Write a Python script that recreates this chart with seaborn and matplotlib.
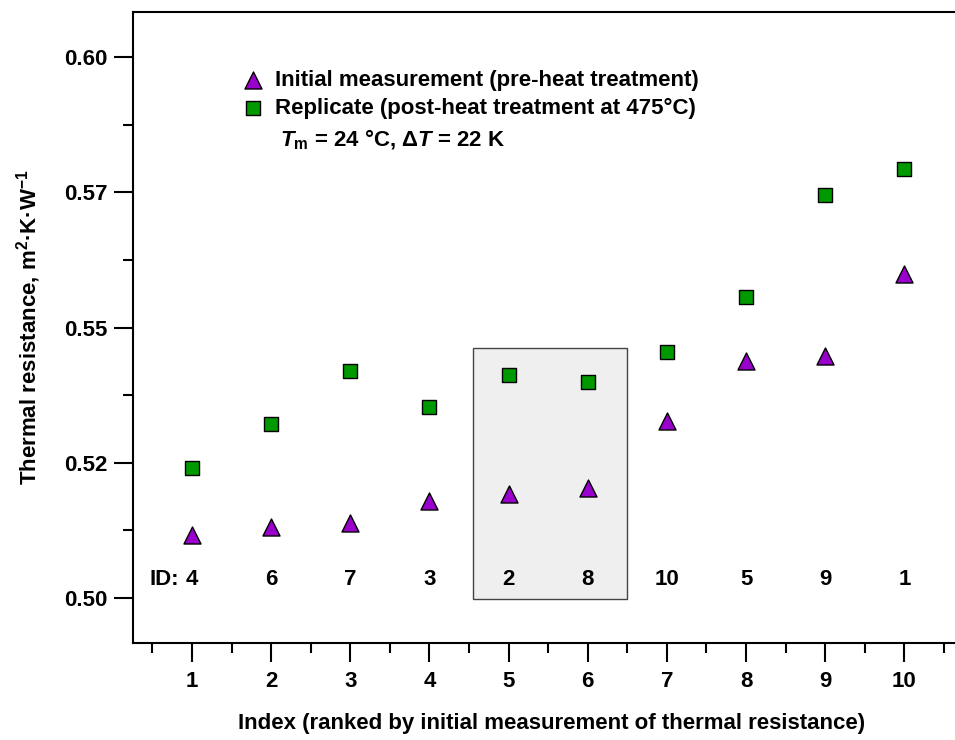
import matplotlib
matplotlib.use("Agg")
import matplotlib.pyplot as plt
import seaborn as sns
import pandas as pd
from matplotlib.patches import Rectangle
from matplotlib.ticker import FixedLocator, FixedFormatter, MultipleLocator

# ---- data ----
index = [1, 2, 3, 4, 5, 6, 7, 8, 9, 10]
sample_ids = ["4", "6", "7", "3", "2", "8", "10", "5", "9", "1"]
initial = [0.5116, 0.5131, 0.5138, 0.5179, 0.5193, 0.5204, 0.5328, 0.5439, 0.5448, 0.5598]
replicate = [0.5240, 0.5322, 0.5420, 0.5354, 0.5412, 0.5400, 0.5454, 0.5557, 0.5745, 0.5793]
ytick_vals = [0.50, 0.525, 0.55, 0.575, 0.60]
ytick_labels = ["0.50", "0.52", "0.55", "0.57", "0.60"]
xtick_vals = [1, 2, 3, 4, 5, 6, 7, 8, 9, 10]
xtick_labels = ["1", "2", "3", "4", "5", "6", "7", "8", "9", "10"]
label_initial = "Initial measurement (pre-heat treatment)"
label_replicate = "Replicate (post-heat treatment at 475°C)"

df = pd.DataFrame({"index": index, "initial": initial, "replicate": replicate})

sns.set_theme(style="ticks")
plt.rcParams["font.family"] = ["Liberation Sans", "DejaVu Sans"]
plt.rcParams["font.weight"] = "bold"
plt.rcParams["text.color"] = "black"
plt.rcParams["axes.labelcolor"] = "black"
plt.rcParams["xtick.color"] = "black"
plt.rcParams["ytick.color"] = "black"
plt.rcParams["mathtext.fontset"] = "custom"
plt.rcParams["mathtext.rm"] = "Liberation Sans:bold"
plt.rcParams["mathtext.it"] = "Liberation Sans:italic:bold"
plt.rcParams["mathtext.bf"] = "Liberation Sans:bold"

FS = 16
fig = plt.figure(figsize=(9.55, 7.4), dpi=100)
ax = fig.add_axes([133 / 955, 1 - 643 / 740, 1 - 133 / 955, (643 - 12) / 740])

# highlighted box
ax.add_patch(Rectangle((4.55, 0.4998), 1.95, 0.5463 - 0.4998, facecolor="#efefef",
                       edgecolor="#444444", linewidth=1.0, zorder=0))

purple = "#9900cc"
green = "#009900"
sns.scatterplot(data=df, x="index", y="initial", ax=ax, marker="^", s=150,
                color=purple, edgecolor="black", linewidth=1.0, label=label_initial, zorder=3)
sns.scatterplot(data=df, x="index", y="replicate", ax=ax, marker="s", s=110,
                color=green, edgecolor="black", linewidth=1.0, label=label_replicate, zorder=3)

# ID labels
for xi, sid in zip(index, sample_ids):
    ax.text(xi, 0.5035, sid, ha="center", va="center", fontsize=FS, fontweight="bold", zorder=4)
ax.annotate("ID:", xy=(index[0], 0.5035), xytext=(-9, 0), textcoords="offset points",
            ha="right", va="center", fontsize=FS, fontweight="bold")

ax.set_xlim(0.254, 10.64)
ax.set_ylim(0.4917, 0.6083)

ax.xaxis.set_major_locator(FixedLocator(xtick_vals))
ax.xaxis.set_major_formatter(FixedFormatter(xtick_labels))
ax.xaxis.set_minor_locator(MultipleLocator(0.5))
ax.yaxis.set_major_locator(FixedLocator(ytick_vals))
ax.yaxis.set_major_formatter(FixedFormatter(ytick_labels))
ax.yaxis.set_minor_locator(MultipleLocator(0.0125))

ax.tick_params(axis="both", which="major", direction="out", length=13.5, width=1.5,
               labelsize=FS, pad=5, color="black", labelcolor="black")
ax.tick_params(axis="x", which="major", pad=7)
ax.tick_params(axis="both", which="minor", direction="out", length=7, width=1.5, color="black")
for lab in ax.get_xticklabels() + ax.get_yticklabels():
    lab.set_fontweight("bold")

for s in ["left", "top", "bottom"]:
    ax.spines[s].set_linewidth(1.5)
    ax.spines[s].set_color("black")
ax.spines["right"].set_visible(False)

ax.set_xlabel("Index (ranked by initial measurement of thermal resistance)",
              fontsize=FS, fontweight="bold")
ax.xaxis.set_label_coords((552 - 133) / 822, -(713 - 643) / 631)
ax.set_ylabel(r"Thermal resistance, m$^{2}$·K·W$^{-1}$", fontsize=FS, fontweight="bold", labelpad=15)

leg = ax.legend(loc="upper left", bbox_to_anchor=(0.1216, 0.922), frameon=False,
                fontsize=FS, handlelength=1.0, handletextpad=0.5, labelspacing=0.32,
                borderaxespad=0)
for t in leg.get_texts():
    t.set_fontweight("bold")
    t.set_color("black")

ax.text(147 / 822, 1 - 128 / 631, r"$\mathit{T}_{\mathrm{m}}$ = 24 °C, $\Delta\mathit{T}$ = 22 K",
        transform=ax.transAxes, fontsize=FS, fontweight="bold", ha="left", va="center")

fig.savefig("out.png", dpi=100)
